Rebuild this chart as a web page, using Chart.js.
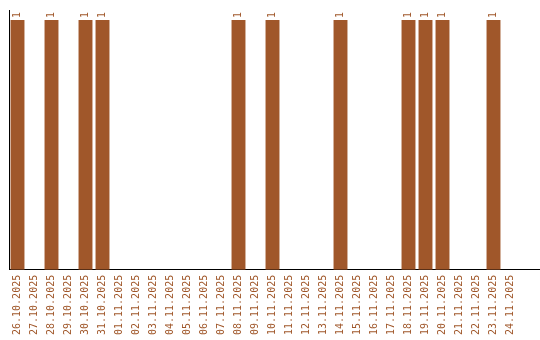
<!DOCTYPE html>
<html>
<head>
<meta charset="utf-8">
<script src="https://cdn.jsdelivr.net/npm/chart.js@4"></script>
<style>
  html, body { margin: 0; padding: 0; background: #fff; }
  #wrap { width: 540px; height: 340px; }
</style>
</head>
<body>
<div id="wrap"><canvas id="chart"></canvas></div>
<script>
const days = [
  '26.10.2025', '27.10.2025', '28.10.2025', '29.10.2025', '30.10.2025', '31.10.2025',
  '01.11.2025', '02.11.2025', '03.11.2025', '04.11.2025', '05.11.2025', '06.11.2025',
  '07.11.2025', '08.11.2025', '09.11.2025', '10.11.2025', '11.11.2025', '12.11.2025',
  '13.11.2025', '14.11.2025', '15.11.2025', '16.11.2025', '17.11.2025', '18.11.2025',
  '19.11.2025', '20.11.2025', '21.11.2025', '22.11.2025', '23.11.2025', '24.11.2025'
];
const counts = [
  1, null, 1, null, 1, 1,
  null, null, null, null, null, null,
  null, 1, null, 1, null, null,
  null, 1, null, null, null, 1,
  1, 1, null, null, 1, null
];
const yMax = 1.04;

const barColor = '#a0572a';

// vertical "1" labels above each bar, and the x axis line running on to the right edge
const extras = {
  id: 'extras',
  afterDatasetsDraw(chart) {
    const ctx = chart.ctx;
    const meta = chart.getDatasetMeta(0);
    ctx.save();
    ctx.font = '10px "DejaVu Sans Mono", monospace';
    ctx.fillStyle = barColor;
    ctx.textAlign = 'left';
    ctx.textBaseline = 'middle';
    meta.data.forEach((bar, i) => {
      if (counts[i] == null) return;
      ctx.save();
      ctx.translate(bar.x, bar.y - 2);
      ctx.rotate(-Math.PI / 2);
      ctx.fillText(String(counts[i]), 0, 0);
      ctx.restore();
    });
    const a = chart.chartArea;
    const y = Math.round(a.bottom - 0.5) + 0.5;
    ctx.strokeStyle = '#000';
    ctx.lineWidth = 1;
    ctx.beginPath();
    ctx.moveTo(a.right - 1, y);
    ctx.lineTo(chart.width, y);
    ctx.stroke();
    ctx.restore();
  }
};

new Chart(document.getElementById('chart'), {
  type: 'bar',
  data: {
    labels: days,
    datasets: [{
      data: counts,
      backgroundColor: barColor,
      borderWidth: 0,
      barPercentage: 0.91,
      categoryPercentage: 0.9
    }]
  },
  options: {
    responsive: true,
    maintainAspectRatio: false,
    animation: false,
    layout: { padding: { left: 9, right: 21, top: 10, bottom: 0 } },
    plugins: {
      legend: { display: false },
      tooltip: { enabled: false }
    },
    scales: {
      x: {
        grid: { display: false, drawTicks: false },
        border: { color: '#000', width: 1 },
        ticks: {
          color: barColor,
          font: { family: '"DejaVu Sans Mono", monospace', size: 10 },
          maxRotation: 90,
          minRotation: 90,
          autoSkip: false,
          padding: 5
        }
      },
      y: {
        min: 0,
        max: yMax,
        grid: { display: false, drawTicks: false },
        border: { color: '#000', width: 1 },
        ticks: { display: false }
      }
    }
  },
  plugins: [extras]
});
</script>
</body>
</html>
